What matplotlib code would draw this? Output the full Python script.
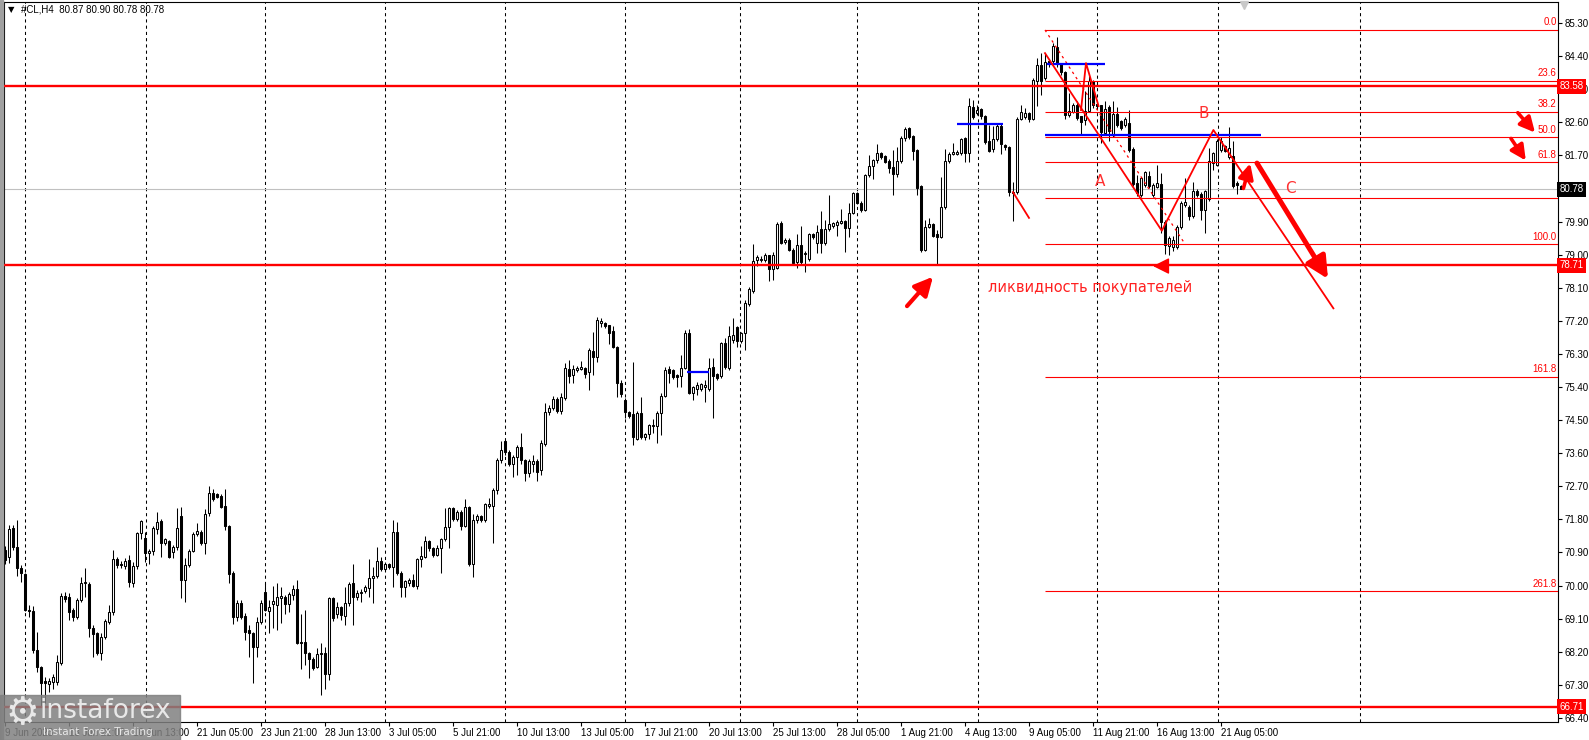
import matplotlib.pyplot as plt
import matplotlib.transforms as mtransforms
from matplotlib.patches import Rectangle

# #CL, H4 - velas (índice = número de barra)

opens = [
    70.97, 70.77, 71.56, 71.04, 70.49, 70.31, 69.34, 69.30, 68.25, 67.79,
    67.41, 67.32, 67.39, 67.39, 67.90, 69.72, 69.68, 69.34, 69.15, 69.61,
    70.06, 70.04, 68.84, 68.70, 68.16, 68.61, 69.02, 69.29, 70.71, 70.58,
    70.53, 70.70, 70.08, 70.52, 71.42, 71.30, 70.88, 70.94, 71.53, 71.76,
    71.15, 71.21, 70.92, 71.04, 71.89, 70.15, 70.56, 70.94, 71.40, 71.47,
    71.15, 71.97, 72.53, 72.48, 72.44, 72.16, 71.62, 70.33, 69.14, 69.53,
    69.17, 68.79, 68.70, 68.34, 69.02, 69.83, 69.32, 69.50, 69.47, 69.65,
    69.70, 69.50, 69.74, 69.90, 68.46, 68.46, 68.17, 68.00, 67.79, 68.13,
    68.18, 67.59, 69.65, 69.24, 69.43, 69.17, 69.52, 70.06, 69.68, 69.80,
    69.85, 69.94, 70.20, 70.26, 70.67, 70.45, 70.59, 70.51, 71.45, 70.35,
    69.95, 70.08, 70.15, 69.99, 70.71, 70.79, 71.21, 71.01, 70.83, 71.01,
    71.26, 71.58, 72.10, 71.80, 72.01, 71.62, 72.13, 70.60, 71.77, 71.89,
    71.77, 72.16, 72.16, 72.60, 73.42, 73.94, 73.64, 73.32, 73.51, 73.76,
    73.41, 73.05, 73.30, 73.40, 73.15, 73.85, 74.73, 74.82, 75.07, 74.76,
    75.11, 75.88, 75.73, 75.86, 75.89, 75.91, 75.82, 76.38, 76.21, 77.15,
    77.13, 77.08, 76.92, 76.50, 75.52, 75.05, 74.73, 74.67, 74.00, 74.70,
    74.03, 74.12, 74.34, 74.34, 74.68, 75.15, 75.88, 75.86, 75.72, 75.70,
    75.93, 76.86, 75.25, 75.34, 75.34, 75.41, 75.34, 75.95, 75.75, 75.70,
    76.61, 75.91, 76.68, 77.02, 76.66, 76.86, 77.66, 78.02, 78.85, 78.85,
    78.85, 78.99, 78.61, 78.63, 79.87, 79.35, 79.40, 79.14, 78.81, 79.26,
    79.02, 78.87, 79.56, 79.31, 79.69, 79.31, 79.69, 79.78, 79.81, 79.87,
    79.92, 79.72, 80.14, 80.67, 80.41, 80.21, 81.17, 81.41, 81.57, 81.77,
    81.68, 81.56, 81.39, 81.19, 81.56, 82.16, 82.44, 82.23, 81.85, 80.87,
    79.14, 79.76, 79.82, 79.56, 79.47, 80.29, 81.55, 81.74, 81.74, 81.77,
    82.16, 81.77, 83.02, 82.84, 82.95, 82.77, 82.10, 81.86, 82.14, 82.50,
    81.98, 81.92, 80.68, 80.70, 82.70, 82.73, 82.85, 82.70, 83.73, 84.15,
    83.80, 84.28, 84.28, 84.64, 84.18, 83.97, 82.79, 82.88, 83.06, 82.76,
    82.67, 82.92, 83.73, 83.10, 83.06, 82.31, 83.01, 82.26, 82.82, 82.64,
    82.53, 82.58, 81.88, 80.95, 80.63, 80.90, 81.13, 80.63, 80.83, 80.92,
    79.90, 79.23, 79.22, 79.22, 79.74, 80.36, 80.29, 80.04, 80.74, 80.65,
    80.22, 80.50, 81.49, 81.43, 81.85, 81.95, 81.65, 81.67, 80.95, 80.87,
]

highs = [
    71.08, 71.65, 71.65, 71.78, 70.55, 70.35, 69.47, 69.45, 68.75, 67.80,
    67.52, 67.50, 67.60, 68.12, 69.79, 69.83, 69.79, 69.40, 69.65, 70.24,
    70.47, 70.10, 68.93, 68.75, 68.70, 69.08, 69.47, 70.97, 70.79, 70.66,
    70.74, 70.83, 70.65, 71.47, 71.78, 71.47, 71.00, 71.62, 72.01, 71.80,
    71.30, 71.25, 71.10, 72.10, 72.14, 70.74, 71.00, 71.47, 71.71, 71.52,
    72.07, 72.71, 72.62, 72.52, 72.48, 72.64, 71.65, 70.40, 69.60, 69.60,
    69.25, 68.93, 68.75, 69.15, 69.60, 70.06, 69.61, 69.99, 70.06, 69.97,
    69.75, 69.83, 70.02, 70.15, 69.24, 69.33, 68.20, 68.07, 68.29, 68.43,
    68.32, 69.70, 69.70, 69.56, 69.45, 69.97, 70.11, 70.58, 69.88, 69.90,
    70.02, 70.71, 70.51, 71.06, 70.79, 70.65, 70.62, 71.78, 71.74, 70.40,
    70.15, 70.20, 70.31, 70.74, 71.08, 71.35, 71.25, 71.05, 71.10, 71.30,
    72.10, 72.13, 72.15, 72.05, 72.05, 72.35, 72.16, 71.94, 71.95, 71.92,
    72.24, 72.37, 72.65, 73.47, 73.94, 73.98, 73.68, 73.55, 73.82, 74.14,
    73.45, 73.45, 73.55, 73.45, 73.96, 74.96, 74.90, 75.15, 75.12, 75.25,
    76.06, 76.13, 76.00, 75.96, 76.12, 75.95, 76.45, 76.90, 77.31, 77.29,
    77.16, 77.10, 77.06, 76.52, 75.59, 75.09, 74.75, 76.09, 74.75, 75.14,
    74.15, 74.40, 74.52, 74.76, 75.25, 75.95, 75.97, 75.90, 75.75, 76.27,
    76.95, 76.99, 75.42, 75.55, 75.50, 75.59, 76.18, 76.18, 75.78, 76.63,
    76.72, 77.06, 77.27, 77.06, 76.90, 77.77, 78.13, 79.29, 78.99, 78.95,
    79.05, 79.00, 79.06, 79.88, 79.92, 79.46, 79.45, 79.18, 79.56, 79.78,
    79.10, 79.60, 79.60, 79.81, 80.19, 79.94, 80.62, 79.90, 79.95, 80.23,
    79.95, 80.41, 80.71, 80.70, 80.45, 81.19, 81.71, 81.60, 82.00, 81.80,
    81.72, 81.60, 81.85, 81.94, 82.23, 82.46, 82.48, 82.26, 81.88, 80.90,
    79.94, 79.99, 79.85, 79.67, 81.12, 81.86, 81.78, 82.03, 81.85, 82.18,
    82.20, 83.25, 83.21, 83.07, 83.00, 82.80, 82.53, 82.50, 82.55, 82.58,
    82.00, 81.95, 80.98, 82.73, 83.08, 83.00, 82.88, 83.80, 84.35, 84.48,
    84.48, 84.30, 84.76, 84.91, 84.20, 84.00, 83.40, 83.12, 83.17, 82.78,
    83.46, 83.85, 83.76, 83.12, 83.08, 83.17, 83.08, 83.17, 83.01, 82.67,
    82.75, 82.94, 81.92, 81.17, 81.12, 81.28, 81.27, 80.95, 81.45, 81.22,
    79.95, 79.50, 79.50, 79.80, 80.45, 81.08, 80.35, 80.98, 80.78, 80.70,
    80.75, 81.90, 81.80, 82.15, 82.20, 81.98, 82.48, 82.10, 81.00, 80.90,
]

lows = [
    70.60, 70.62, 70.97, 70.26, 70.11, 69.30, 69.15, 68.16, 67.66, 66.72,
    66.80, 67.10, 67.20, 67.30, 67.85, 69.55, 69.06, 69.05, 69.10, 69.55,
    69.70, 68.61, 68.07, 68.10, 67.98, 68.55, 68.95, 69.20, 70.47, 70.48,
    70.45, 69.97, 69.97, 70.45, 71.26, 70.65, 70.60, 70.83, 71.40, 70.77,
    71.10, 70.74, 70.74, 70.98, 69.65, 69.56, 70.50, 70.90, 71.35, 71.10,
    70.86, 71.90, 72.30, 72.38, 72.10, 71.51, 70.08, 68.95, 69.05, 69.10,
    68.52, 68.07, 67.34, 68.07, 68.95, 69.30, 68.70, 68.84, 68.79, 68.97,
    69.24, 69.29, 69.61, 68.40, 67.72, 67.84, 67.50, 67.70, 67.75, 67.02,
    67.18, 67.43, 69.05, 69.11, 69.06, 68.93, 69.45, 68.93, 69.61, 69.56,
    69.79, 69.70, 69.53, 70.20, 70.40, 70.40, 70.45, 69.97, 70.30, 69.68,
    69.70, 70.00, 69.95, 69.90, 70.51, 70.75, 70.95, 70.78, 70.80, 70.33,
    71.20, 71.01, 71.75, 71.75, 71.51, 71.58, 70.54, 70.22, 71.70, 71.72,
    71.74, 72.10, 71.17, 72.50, 73.34, 73.55, 73.25, 72.96, 73.01, 73.30,
    72.85, 72.95, 73.10, 72.85, 73.00, 73.80, 74.65, 74.78, 74.70, 74.67,
    75.05, 75.50, 75.52, 75.82, 75.85, 75.64, 75.32, 75.72, 76.09, 77.04,
    77.00, 76.57, 76.45, 75.12, 75.14, 74.55, 74.55, 73.82, 73.95, 74.00,
    73.97, 74.00, 74.14, 73.89, 74.09, 75.12, 75.50, 75.61, 75.41, 75.41,
    75.90, 75.20, 75.05, 75.18, 75.30, 75.00, 75.30, 74.57, 75.60, 75.65,
    75.90, 75.85, 76.60, 76.50, 76.60, 76.42, 77.60, 77.97, 78.69, 78.81,
    78.80, 78.29, 78.31, 78.60, 79.28, 79.30, 79.10, 78.73, 78.63, 78.75,
    78.54, 78.82, 79.42, 79.04, 79.04, 79.25, 79.65, 79.72, 79.50, 79.82,
    79.08, 79.47, 80.10, 80.38, 80.15, 80.18, 81.10, 81.05, 81.50, 81.60,
    81.48, 81.21, 80.62, 81.10, 81.50, 82.10, 82.15, 81.57, 80.62, 79.08,
    79.10, 79.72, 79.48, 78.72, 79.45, 80.25, 81.50, 81.70, 81.70, 81.72,
    81.53, 81.53, 82.70, 82.80, 82.70, 82.00, 81.80, 81.80, 82.10, 81.74,
    81.85, 80.60, 79.92, 80.65, 82.65, 82.70, 82.60, 82.65, 83.03, 83.35,
    83.75, 84.10, 84.20, 84.10, 83.88, 82.70, 82.75, 82.85, 82.65, 82.26,
    82.53, 82.88, 83.00, 82.98, 82.04, 82.26, 82.10, 82.20, 82.48, 82.40,
    82.48, 81.80, 80.88, 80.60, 80.58, 80.85, 80.80, 80.58, 80.80, 79.59,
    79.03, 79.00, 79.10, 79.15, 79.70, 80.30, 79.95, 80.00, 80.58, 79.95,
    79.59, 80.45, 81.30, 81.40, 81.80, 81.78, 81.60, 80.80, 80.65, 80.78,
]

closes = [
    70.70, 71.53, 71.04, 70.47, 70.33, 69.34, 69.32, 68.25, 67.79, 67.34,
    67.34, 67.41, 67.52, 67.93, 69.72, 69.63, 69.29, 69.15, 69.61, 70.06,
    70.10, 68.84, 68.68, 68.16, 68.61, 69.04, 69.29, 70.71, 70.56, 70.57,
    70.67, 70.11, 70.52, 71.44, 71.76, 70.88, 70.94, 71.56, 71.74, 71.15,
    71.26, 70.77, 71.06, 71.56, 70.15, 70.56, 70.95, 71.40, 71.49, 71.17,
    71.95, 72.53, 72.35, 72.42, 72.14, 71.62, 70.31, 69.14, 69.53, 69.15,
    68.75, 68.72, 68.34, 69.02, 69.53, 69.34, 69.43, 69.59, 69.68, 69.72,
    69.50, 69.77, 69.92, 68.43, 68.45, 68.17, 67.99, 67.77, 68.13, 68.17,
    67.59, 69.65, 69.11, 69.41, 69.20, 69.52, 70.04, 69.68, 69.79, 69.83,
    69.95, 70.20, 70.26, 70.67, 70.45, 70.59, 70.51, 71.45, 70.35, 69.95,
    70.12, 70.15, 69.99, 70.71, 70.80, 71.22, 71.01, 70.83, 71.03, 71.26,
    71.58, 72.10, 71.80, 72.01, 71.62, 72.13, 70.60, 71.78, 71.89, 71.77,
    72.22, 72.22, 72.60, 73.42, 73.69, 73.62, 73.32, 73.51, 73.76, 73.41,
    73.05, 73.38, 73.40, 73.10, 73.89, 74.73, 74.82, 75.07, 74.76, 75.14,
    75.91, 75.70, 75.88, 75.91, 75.95, 75.75, 76.41, 76.21, 77.22, 77.19,
    77.06, 76.88, 76.50, 75.52, 75.21, 74.73, 74.61, 74.05, 74.70, 74.03,
    74.12, 74.37, 74.37, 74.70, 75.15, 75.86, 75.77, 75.68, 75.66, 75.93,
    76.86, 75.25, 75.39, 75.45, 75.47, 75.45, 75.91, 75.70, 75.64, 76.61,
    75.95, 76.79, 76.81, 76.66, 76.86, 77.69, 78.06, 78.84, 78.93, 78.87,
    78.99, 78.61, 78.99, 79.83, 79.33, 79.40, 79.13, 78.78, 79.26, 78.81,
    79.04, 79.56, 79.47, 79.62, 79.33, 79.69, 79.83, 79.85, 79.90, 79.92,
    79.72, 80.14, 80.67, 80.41, 80.21, 81.17, 81.41, 81.57, 81.77, 81.65,
    81.53, 81.37, 81.19, 81.55, 82.16, 82.41, 82.21, 81.83, 80.80, 79.13,
    79.76, 79.83, 79.52, 79.47, 80.29, 81.55, 81.74, 81.80, 81.80, 82.14,
    81.77, 83.04, 82.75, 82.93, 82.77, 82.05, 81.83, 82.14, 82.50, 82.00,
    81.92, 80.70, 80.70, 82.70, 82.88, 82.85, 82.70, 83.76, 84.15, 83.73,
    84.24, 84.18, 84.67, 84.18, 83.97, 82.79, 82.90, 83.08, 82.72, 82.61,
    82.90, 83.73, 83.08, 83.03, 82.34, 82.97, 82.35, 82.82, 82.53, 82.44,
    82.70, 81.85, 80.92, 80.68, 81.08, 81.25, 80.86, 80.90, 80.95, 79.90,
    79.26, 79.44, 79.40, 79.74, 80.40, 80.43, 80.04, 80.74, 80.63, 80.22,
    80.72, 81.54, 81.76, 82.08, 82.10, 81.83, 81.90, 80.86, 80.90, 80.78,
]

date_labels = [
    "9 Jun 2023", "13 Jun 21:00", "16 Jun 13:00", "21 Jun 05:00", "23 Jun 21:00",
    "28 Jun 13:00", "3 Jul 05:00", "5 Jul 21:00", "10 Jul 13:00", "13 Jul 05:00",
    "17 Jul 21:00", "20 Jul 13:00", "25 Jul 13:00", "28 Jul 05:00", "1 Aug 21:00",
    "4 Aug 13:00", "9 Aug 05:00", "11 Aug 21:00", "16 Aug 13:00", "21 Aug 05:00",
]
date_bars = [0, 16, 32, 48, 64, 80, 96, 112, 128, 144,
             160, 176, 192, 208, 224, 240, 256, 272, 288, 304]

price_ticks = [85.30, 84.40, 83.50, 82.60, 81.70, 80.80, 79.90, 79.00, 78.10, 77.20, 76.30,
               75.40, 74.50, 73.60, 72.70, 71.80, 70.90, 70.00, 69.10, 68.20, 67.30, 66.40]

# niveles horizontales y Fibonacci
red_levels = [83.58, 78.71, 66.71]
last_price = 80.78
fib_levels = [0.0, 23.6, 38.2, 50.0, 61.8, 78.6, 100.0, 161.8, 261.8]
fib_names = ["0.0", "23.6", "38.2", "50.0", "61.8", "", "100.0", "161.8", "261.8"]
fib_top = 85.11
fib_bottom = 79.28
fib_start = 260

grid_bars = [5, 35.25, 65, 95, 125, 155, 183.75, 213, 243.25, 273, 303.25, 338.75]

# ondas A-B-C dibujadas a mano
wave_x = [260, 289.2, 302.1, 332.1]
wave_y = [84.48, 79.65, 82.39, 77.54]
spike_x = [269, 270.25, 273.4]
spike_y = [82.93, 84.21, 83.04]
tick_x = [252, 256]
tick_y = [80.70, 80.00]
fib_diag_x = [260, 295]
fib_diag_y = [85.11, 79.29]
blue_lines = [(170.5, 176.0, 75.80), (238.0, 249.5, 82.55),
              (260.4, 275.0, 84.19), (260.0, 314.0, 82.26)]
# flechas: (x cola, y cola, x punta, y punta, grosor, escala)
arrows = [
    (313.0, 81.49, 330.75, 78.34, 3.6, 13),
    (309.6, 80.80, 311.3, 81.48, 2.6, 9),
    (378.2, 82.86, 382.5, 82.32, 2.6, 9),
    (376.5, 82.16, 380.2, 81.56, 2.6, 9),
    (225.5, 77.60, 232.0, 78.40, 3.0, 11),
    (290.0, 78.69, 287.0, 78.69, 1.0, 10),
]
wave_names = [("A", 273.75, 81.00), ("B", 299.75, 82.85), ("C", 321.25, 80.81)]

W, H = 1589, 740
small = dict(family="Liberation Sans", size=7)

fig = plt.figure(figsize=(W / 100, H / 100), dpi=100)
fig.patch.set_facecolor("white")
ax = fig.add_axes([4 / W, 18 / H, 1554 / W, 720 / H])
ax.set_xlim(-0.25, 388.25)
ax.set_ylim(66.29, 85.871)

# rejilla vertical punteada
for g in grid_bars:
    ax.axvline(g, color="black", lw=0.75, dashes=(3, 3), zorder=0.5)

ax.axhline(last_price, color="#c0c0c0", lw=0.8, zorder=0.8)

# velas
bars = list(range(len(closes)))
ax.vlines(bars, lows, highs, color="black", lw=0.75, zorder=2)
for i in bars:
    o, c = opens[i], closes[i]
    fill = "white" if c >= o else "black"
    ax.bar(i, abs(c - o), bottom=min(o, c), width=0.5, color=fill,
           edgecolor="black", linewidth=0.75, zorder=3)

# lineas rojas de soporte / resistencia
for lvl in red_levels:
    ax.axhline(lvl, color="red", lw=1.7, zorder=4)

# Fibonacci
for lvl, name in zip(fib_levels, fib_names):
    p = fib_top - lvl / 100 * (fib_top - fib_bottom)
    ax.hlines(p, fib_start, 388.25, color="red", lw=0.8, zorder=4)
    if name:
        ax.text(387.9, p + 0.07, name, color="red", ha="right", va="bottom",
                zorder=6, **small)
ax.plot(fib_diag_x, fib_diag_y, color="red", lw=0.9, ls=(0, (2, 3)), zorder=4)

for x0, x1, y in blue_lines:
    ax.hlines(y, x0, x1, color="#0000ff", lw=1.6, zorder=4)

ax.plot(wave_x, wave_y, color="red", lw=1.3, zorder=5)
ax.plot(spike_x, spike_y, color="red", lw=1.3, zorder=5)
ax.plot(tick_x, tick_y, color="red", lw=1.3, zorder=5)

for x0, y0, x1, y1, lw, sc in arrows:
    ax.annotate("", xy=(x1, y1), xytext=(x0, y0),
                arrowprops=dict(arrowstyle="-|>,head_length=1.0,head_width=0.5",
                                color="red", lw=lw, mutation_scale=sc,
                                shrinkA=0, shrinkB=0), zorder=6)

for name, x, y in wave_names:
    ax.text(x, y, name, color="#ff3030", fontsize=11, ha="center", va="center", zorder=6)
ax.text(245.75, 78.12, "ликвидность покупателей", color="#ff2020", fontsize=10.5,
        ha="left", va="center", zorder=6)

# ejes estilo MetaTrader
for s in ax.spines.values():
    s.set_color("black")
    s.set_linewidth(0.8)
ax.yaxis.tick_right()
ax.set_yticks(price_ticks)
# 80.80 queda tapado por la etiqueta del precio actual
ax.set_yticklabels(["" if p == 80.80 else f"{p:.2f}" for p in price_ticks],
                   fontfamily="Liberation Sans", fontsize=7)
ax.set_xticks(date_bars)
ax.set_xticklabels(date_labels, fontfamily="Liberation Sans", fontsize=7, ha="left")
ax.tick_params(axis="y", length=3, width=0.8, pad=1.5)
ax.tick_params(axis="x", length=3, width=0.8, pad=1.5)

# etiquetas de precio en la escala
side = mtransforms.blended_transform_factory(ax.transAxes, ax.transData)
for lvl in red_levels:
    ax.text(1.001, lvl, f"{lvl:.2f}", transform=side, color="white", ha="left", va="center",
            bbox=dict(boxstyle="square,pad=0.25", fc="red", ec="none"),
            zorder=10, clip_on=False, **small)
ax.text(1.001, last_price, f"{last_price:.2f}", transform=side, color="white", ha="left",
        va="center", bbox=dict(boxstyle="square,pad=0.25", fc="black", ec="none"),
        zorder=10, clip_on=False, **small)

ax.plot([309.75], [85.79], marker="v", color="#c8c8c8", ms=6, zorder=6, clip_on=False)

# cabecera
fig.text(8 / W, 1 - 10 / H, "▼", fontsize=6, va="center", color="black")
fig.text(21 / W, 1 - 10 / H, "#CL,H4  80.87 80.90 80.78 80.78", va="center", **small)

# borde gris de la ventana y logo
fig.patches.append(Rectangle((0, 0), 3 / W, 1, transform=fig.transFigure,
                             color="#a0a0a0", zorder=20))
fig.patches.append(Rectangle((0, 0), 180 / W, 45 / H, transform=fig.transFigure,
                             color="#808080", alpha=0.85, zorder=20))
fig.text(22 / W, 1 - 714 / H, "⚙", fontsize=27, color="#e8e8e8", ha="center",
         va="center", zorder=21)
fig.text(40 / W, 1 - 711 / H, "instaforex", fontsize=19, color="#e8e8e8", ha="left",
         va="center", zorder=21)
fig.text(98 / W, 1 - 732 / H, "Instant Forex Trading", fontsize=7.5, color="#e8e8e8",
         ha="center", va="center", zorder=21)

fig.savefig("out.png", dpi=100)
